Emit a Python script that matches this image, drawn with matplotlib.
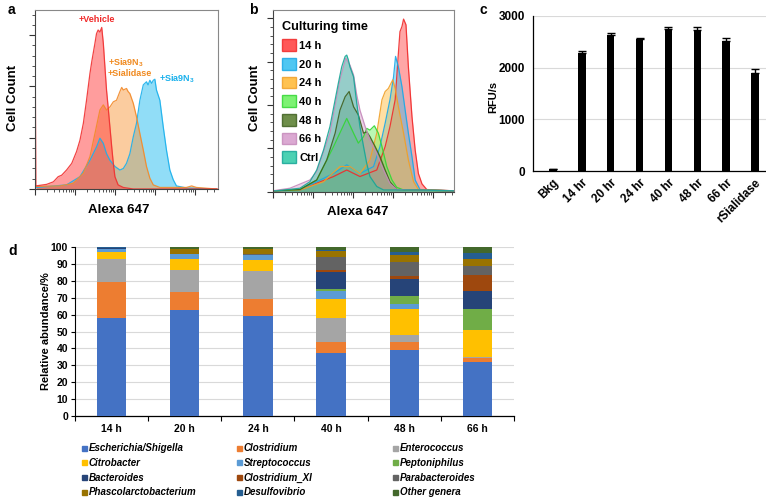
import numpy as np
import matplotlib
matplotlib.use("Agg")
import matplotlib.pyplot as plt
from matplotlib.patches import Patch
from matplotlib.lines import Line2D
from matplotlib.ticker import LogLocator, MultipleLocator, NullFormatter, FixedLocator

plt.rcParams['font.family'] = ['Liberation Sans', 'DejaVu Sans']
plt.rcParams['font.weight'] = 'bold'
plt.rcParams['mathtext.fontset'] = 'custom'
plt.rcParams['mathtext.rm'] = 'Liberation Sans:bold'
plt.rcParams['mathtext.bf'] = 'Liberation Sans:bold'
plt.rcParams['mathtext.default'] = 'bf'

# ---------------- Panel a data (log10 fluorescence, cell count) ----------------
a_vehicle_log = [0.00, 0.02, 0.29, 0.46, 0.58, 0.67, 0.79, 0.92, 1.04, 1.125, 1.21, 1.29, 1.375, 1.42, 1.50,
                 1.54, 1.58, 1.625, 1.67, 1.71, 1.75, 1.79, 1.83, 1.875, 1.92, 1.96, 2.00, 2.08, 2.21, 2.46, 4.58]
a_vehicle_count = [360, 6, 9, 14, 24, 27, 37, 50, 73, 95, 128, 173, 225, 248, 284,
                   303, 310, 306, 315, 284, 238, 193, 160, 121, 82, 50, 24, 8, 3, 0, 0]
a_sialidase_log = [0.04, 0.625, 0.96, 1.21, 1.375, 1.50, 1.625, 1.71, 1.79, 1.875, 1.96, 2.04, 2.125, 2.17, 2.21,
                   2.29, 2.33, 2.375, 2.46, 2.54, 2.625, 2.71, 2.79, 2.875, 2.96, 3.125, 3.79, 3.92, 4.04, 4.54]
a_sialidase_count = [5, 6, 11, 31, 63, 108, 154, 164, 154, 160, 170, 173, 190, 198, 193,
                     196, 190, 186, 167, 141, 108, 76, 44, 21, 8, 3, 3, 6, 3, 0]
a_sia_log = [0.04, 0.79, 1.125, 1.375, 1.54, 1.625, 1.71, 1.79, 1.875, 2.00, 2.125, 2.21, 2.29, 2.375, 2.46, 2.54,
             2.625, 2.71, 2.79, 2.83, 2.875, 2.92, 2.96, 3.00, 3.04, 3.125, 3.21, 3.29, 3.375, 3.46, 3.54, 3.79, 4.54]
a_sia_count = [3, 8, 24, 56, 82, 99, 89, 69, 56, 44, 37, 40, 50, 69, 102, 128,
               173, 203, 209, 203, 212, 206, 212, 214, 193, 173, 121, 76, 37, 18, 6, 2, 0]

# ---------------- Panel b data ----------------
b_labels = ['14 h', '20 h', '24 h', '40 h', '48 h', '66 h', 'Ctrl']
b_14h_log = [0.0, 0.68, 1.52, 1.85, 2.18, 2.60, 2.81, 2.93, 3.06, 3.14, 3.18, 3.23, 3.27, 3.33, 3.39, 3.48, 3.56,
             3.64, 3.73, 3.85, 4.53]
b_14h_count = [2, 4, 35, 50, 35, 50, 104, 150, 212, 319, 369, 381, 398, 385, 288, 173, 96, 42, 18, 5, 2]
b_20h_log = [0.0, 0.68, 1.52, 1.85, 2.18, 2.52, 2.68, 2.81, 2.93, 3.02, 3.07, 3.14, 3.23, 3.31, 3.39, 3.48, 3.56,
             3.68, 4.53]
b_20h_count = [2, 4, 42, 62, 42, 58, 104, 158, 212, 265, 312, 288, 242, 188, 135, 81, 27, 5, 2]
b_24h_log = [0.0, 0.68, 1.27, 1.68, 1.93, 2.18, 2.43, 2.60, 2.73, 2.81, 2.89, 3.00, 3.06, 3.14, 3.27, 3.39, 3.52,
             3.64, 4.53]
b_24h_count = [2, 4, 23, 58, 58, 42, 73, 135, 212, 231, 238, 258, 238, 196, 135, 73, 23, 5, 2]
b_40h_log = [0.0, 0.68, 1.10, 1.52, 1.85, 2.02, 2.14, 2.27, 2.35, 2.43, 2.54, 2.64, 2.73, 2.85, 2.98, 3.10, 3.27, 4.53]
b_40h_count = [2, 5, 27, 104, 169, 135, 112, 127, 146, 142, 152, 135, 104, 58, 27, 10, 4, 2]
b_48h_log = [0.0, 0.68, 1.10, 1.35, 1.56, 1.68, 1.81, 1.91, 2.02, 2.14, 2.27, 2.35, 2.43, 2.56, 2.68, 2.81, 2.93,
             3.10, 4.53]
b_48h_count = [2, 5, 27, 73, 135, 188, 219, 231, 196, 177, 135, 138, 127, 104, 81, 50, 23, 5, 2]
b_66h_log = [0.0, 0.43, 0.93, 1.10, 1.43, 1.68, 1.825, 1.93, 2.02, 2.10, 2.18, 2.31, 2.43, 2.60, 2.77, 2.93, 3.10, 4.53]
b_66h_count = [2, 8, 27, 46, 135, 258, 308, 292, 269, 223, 188, 150, 119, 88, 50, 19, 5, 2]
b_ctrl_log = [0.0, 0.10, 0.68, 0.93, 1.10, 1.27, 1.43, 1.56, 1.64, 1.725, 1.81, 1.85, 1.89, 1.93, 2.02, 2.10, 2.18,
              2.27, 2.35, 2.43, 2.60, 2.77, 3.6, 4.53]
b_ctrl_count = [2, 2, 8, 23, 50, 96, 150, 212, 250, 288, 312, 315, 304, 288, 265, 204, 150, 104, 65, 35, 12, 4, 4, 2]

# ---------------- Panel c data ----------------
c_labels = ['Bkg', '14 hr', '20 hr', '24 hr', '40 hr', '48 hr', '66 hr', 'rSialidase']
c_values = [30, 2275, 2630, 2555, 2750, 2730, 2525, 1890]
c_errors = [15, 55, 40, 15, 35, 65, 45, 85]

# ---------------- Panel d data ----------------
d_times = ['14 h', '20 h', '24 h', '40 h', '48 h', '66 h']
d_genera = ['Escherichia/Shigella', 'Clostridium', 'Enterococcus', 'Citrobacter', 'Streptococcus', 'Peptoniphilus',
            'Bacteroides', 'Clostridium_XI', 'Parabacteroides', 'Phascolarctobacterium', 'Desulfovibrio',
            'Other genera']
escherichia = [58.0, 62.5, 59.0, 37.0, 39.0, 32.2]
clostridium = [21.0, 11.0, 10.5, 6.5, 5.0, 2.2]
enterococcus = [14.0, 13.0, 16.5, 14.5, 4.2, 0.3]
citrobacter = [3.8, 6.5, 6.6, 11.5, 15.3, 15.9]
streptococcus = [2.2, 2.6, 2.8, 4.5, 3.0, 0.3]
peptoniphilus = [0.0, 0.0, 0.0, 1.2, 4.5, 12.6]
bacteroides = [0.3, 0.0, 0.0, 10.2, 10.0, 10.3]
clostridium_xi = [0.0, 0.0, 0.0, 1.2, 2.0, 9.6]
parabacteroides = [0.3, 0.2, 0.2, 7.6, 8.4, 5.4]
phascolarctobacterium = [0.0, 3.0, 3.0, 3.4, 3.6, 4.0]
desulfovibrio = [0.2, 0.0, 0.0, 0.4, 2.0, 3.6]
other_genera = [0.2, 1.2, 1.4, 2.0, 3.0, 3.6]
d_colors = ['#4472C4', '#ED7D31', '#A5A5A5', '#FFC000', '#5B9BD5', '#70AD47',
            '#264478', '#9E480E', '#636363', '#997300', '#255E91', '#43682B']

W, H = 766, 500
fig = plt.figure(figsize=(W / 100, H / 100), dpi=100)


def px_axes(x0, y0, x1, y1):
    return fig.add_axes([x0 / W, 1 - y1 / H, (x1 - x0) / W, (y1 - y0) / H])


def ftext(x, y, s, **kw):
    return fig.text(x / W, 1 - y / H, s, **kw)


def style_flow(ax, xmax_log, ymax):
    ax.set_xscale('log')
    ax.set_xlim(1, 10 ** xmax_log)
    ax.set_ylim(0, ymax)
    ax.xaxis.set_major_locator(LogLocator(base=10, numticks=10))
    ax.xaxis.set_minor_locator(LogLocator(base=10, subs=np.arange(2, 10), numticks=50))
    ax.xaxis.set_major_formatter(NullFormatter())
    ax.xaxis.set_minor_formatter(NullFormatter())
    ax.yaxis.set_major_locator(MultipleLocator(100))
    ax.yaxis.set_minor_locator(MultipleLocator(20))
    ax.yaxis.set_major_formatter(NullFormatter())
    ax.tick_params(which='major', direction='out', length=4, width=0.8, color='#333333')
    ax.tick_params(which='minor', direction='out', length=2, width=0.6, color='#333333')
    for s in ax.spines.values():
        s.set_linewidth(0.8)
        s.set_color('#444444')
    ax.spines['top'].set_color('#888888')
    ax.spines['right'].set_color('#888888')


def hist(ax, logs, counts, fill, edge, alpha=0.5):
    x = np.power(10.0, np.asarray(logs))
    y = np.asarray(counts)
    ax.fill_between(x, y, 0, color=fill, alpha=alpha, lw=0)
    ax.plot(x, y, color=edge, lw=0.9, alpha=0.9)


# ---------------- Panel a ----------------
axa = px_axes(35, 10, 218, 189)
hist(axa, a_sia_log, a_sia_count, '#25BCF0', '#1AB0EC')
hist(axa, a_sialidase_log, a_sialidase_count, '#F99A40', '#F28A2A')
hist(axa, a_vehicle_log, a_vehicle_count, '#FF3D3D', '#F03030')
style_flow(axa, 4.58, 349)
ftext(79, 19, '+Vehicle', color='#F02828', fontsize=6.5, fontweight='bold', va='center')
ftext(108, 63, r'+Sia9N$_{3}$', color='#F08A20', fontsize=6.5, fontweight='bold', va='center')
ftext(108, 74, '+Sialidase', color='#F08A20', fontsize=6.5, fontweight='bold', va='center')
ftext(159, 79, r'+Sia9N$_{3}$', color='#18B0EC', fontsize=6.5, fontweight='bold', va='center')
ftext(119, 210, 'Alexa 647', fontsize=9.5, fontweight='bold', ha='center', va='center')
ftext(13, 98, 'Cell Count', fontsize=9.5, fontweight='bold', ha='center', va='center', rotation=90)

# ---------------- Panel b ----------------
axb = px_axes(272.7, 10, 454, 191.7)
b_fill = ['#FF3B3B', '#30BDF0', '#FFB833', '#66F05A', '#557A2A', '#D59ACB', '#2DC9A6']
b_edge = ['#F02A2A', '#1AA8E6', '#F0A028', '#33D633', '#3F6020', '#C58ABB', '#16A696']
b_series = [(b_14h_log, b_14h_count), (b_20h_log, b_20h_count), (b_24h_log, b_24h_count),
            (b_40h_log, b_40h_count), (b_48h_log, b_48h_count), (b_66h_log, b_66h_count),
            (b_ctrl_log, b_ctrl_count)]
for (lg, ct), fc, ec in zip(b_series, b_fill, b_edge):
    hist(axb, lg, ct, fc, ec, alpha=0.45)
style_flow(axb, 4.53, 419)
handles_b = [Patch(facecolor=fc, edgecolor=ec, alpha=0.85, lw=1.0) for fc, ec in zip(b_fill, b_edge)]
legb = axb.legend(handles_b, b_labels, loc='upper left', bbox_to_anchor=(276.5 / W, 1 - 15 / H),
                  bbox_transform=fig.transFigure, frameon=False, fontsize=8, title='Culturing time',
                  title_fontproperties={'size': 9.2, 'weight': 'bold'}, handlelength=1.25, handleheight=1.25,
                  handletextpad=0.3, labelspacing=0.62, borderpad=0.0, alignment='left')
ftext(358, 212, 'Alexa 647', fontsize=9.5, fontweight='bold', ha='center', va='center')
ftext(255, 98, 'Cell Count', fontsize=9.5, fontweight='bold', ha='center', va='center', rotation=90)

# ---------------- Panel c ----------------
axc = px_axes(533, 16, 766, 171)
xc = np.arange(len(c_labels))
axc.bar(xc, c_values, width=0.26, color='black', zorder=3)
axc.errorbar(xc, c_values, yerr=[np.zeros(len(c_values)), c_errors], fmt='none', ecolor='black',
             elinewidth=1.0, capsize=3, capthick=1.0, zorder=4)
axc.set_xlim(-0.69, 7.38)
axc.set_ylim(0, 3000)
axc.yaxis.set_major_locator(MultipleLocator(1000))
axc.grid(axis='y', color='#D9D9D9', lw=0.8, zorder=0)
axc.set_axisbelow(True)
axc.set_xticks(xc)
axc.set_xticklabels(c_labels, rotation=45, ha='right', rotation_mode='anchor', fontsize=8.5, fontweight='bold')
axc.tick_params(axis='x', length=0, pad=4)
axc.tick_params(axis='y', length=0, pad=6, labelsize=8.5)
for lab in axc.get_yticklabels():
    lab.set_fontweight('bold')
axc.spines['top'].set_visible(False)
axc.spines['right'].set_visible(False)
axc.spines['left'].set_linewidth(0.9)
axc.spines['bottom'].set_linewidth(0.9)
ftext(493, 97, 'RFU/s', fontsize=8, fontweight='bold', ha='center', va='center', rotation=90)

# ---------------- Panel d ----------------
axd = px_axes(75, 247, 514, 416)
xd = np.arange(len(d_times))
d_series = [escherichia, clostridium, enterococcus, citrobacter, streptococcus, peptoniphilus, bacteroides,
            clostridium_xi, parabacteroides, phascolarctobacterium, desulfovibrio, other_genera]
bottom = np.zeros(len(d_times))
for vals, col in zip(d_series, d_colors):
    axd.bar(xd, vals, bottom=bottom, width=0.4, color=col, zorder=3, lw=0)
    bottom = bottom + np.asarray(vals)
axd.set_xlim(-0.5, 5.5)
axd.set_ylim(0, 100)
axd.yaxis.set_major_locator(MultipleLocator(10))
axd.grid(axis='y', color='#D9D9D9', lw=0.8, zorder=0)
axd.set_axisbelow(True)
axd.set_xticks(xd)
axd.set_xticklabels(d_times, fontsize=7.5, fontweight='bold')
axd.xaxis.set_minor_locator(FixedLocator(np.arange(-0.5, 6.0, 1.0)))
axd.tick_params(axis='x', which='major', length=0, pad=6)
axd.tick_params(axis='x', which='minor', length=3.5, width=0.8, direction='out')
axd.tick_params(axis='y', length=3, width=0.8, pad=2, labelsize=7.5)
for lab in axd.get_yticklabels():
    lab.set_fontweight('bold')
axd.spines['top'].set_visible(False)
axd.spines['right'].set_visible(False)
axd.spines['left'].set_linewidth(0.8)
axd.spines['bottom'].set_linewidth(0.9)
ftext(46, 331, 'Relative abundance/%', fontsize=8, fontweight='bold', ha='center', va='center', rotation=90)

# legend for d: three columns, row-major order
col_x = [81.5, 236.5, 392.5]
for c in range(3):
    idx = [c, c + 3, c + 6, c + 9]
    hs = [Line2D([], [], marker='s', ls='none', markersize=3.6, markerfacecolor=d_colors[i],
                 markeredgecolor=d_colors[i]) for i in idx]
    fig.legend(hs, [d_genera[i] for i in idx], loc='upper left',
               bbox_to_anchor=(col_x[c] / W, 1 - 443 / H), frameon=False,
               prop={'size': 7, 'weight': 'bold', 'style': 'italic'}, handlelength=0.45,
               handletextpad=0.3, labelspacing=0.49, borderpad=0.0, borderaxespad=0.0)

# panel letters
ftext(8, 10, 'a', fontsize=10, fontweight='bold', va='center')
ftext(249, 10, 'b', fontsize=10, fontweight='bold', va='center')
ftext(480, 10, 'c', fontsize=10, fontweight='bold', va='center')
ftext(8, 251, 'd', fontsize=10, fontweight='bold', va='center')

fig.savefig('out.png', dpi=100)
